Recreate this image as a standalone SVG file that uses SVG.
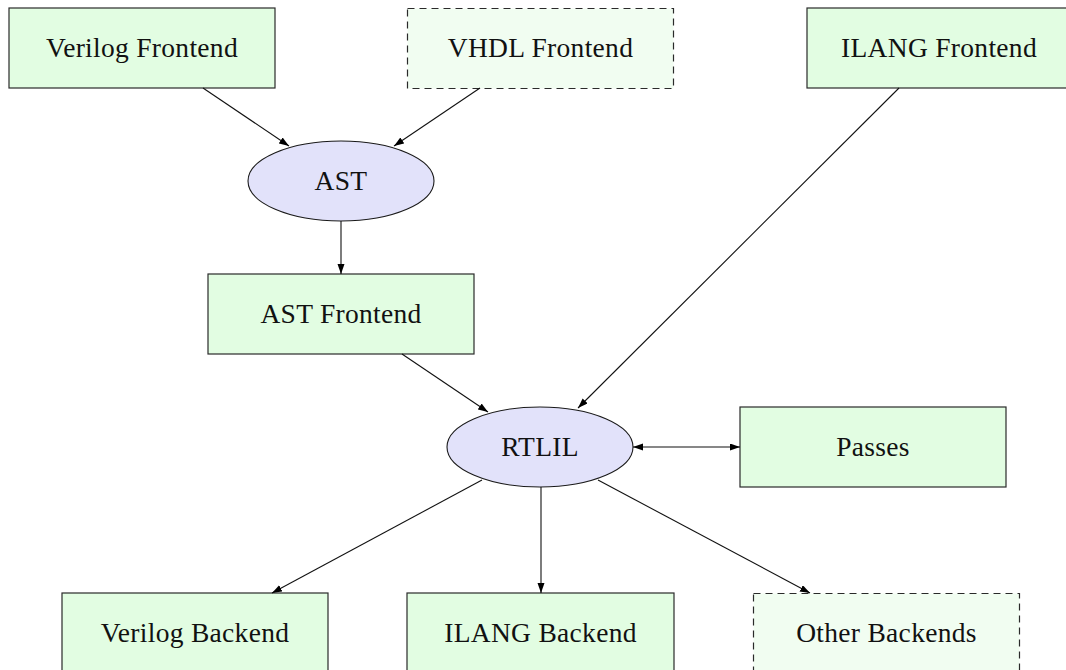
<svg xmlns="http://www.w3.org/2000/svg" width="1066" height="670" viewBox="0 0 1066 670">
<defs>
<marker id="arr" markerUnits="userSpaceOnUse" markerWidth="11" markerHeight="8" refX="10" refY="3.5" orient="auto">
<path d="M0,0 L10,3.5 L0,7 z" fill="#000"/>
</marker>
<marker id="arrs" markerUnits="userSpaceOnUse" markerWidth="11" markerHeight="8" refX="10" refY="3.5" orient="auto-start-reverse">
<path d="M0,0 L10,3.5 L0,7 z" fill="#000"/>
</marker>
<style>
.box{fill:#e2fde2;stroke:#2a2a2a;stroke-width:1.2}
.dbox{fill:#f1fdf1;stroke:#2a2a2a;stroke-width:1.2;stroke-dasharray:7 5}
.ell{fill:#e2e2fa;stroke:#1a1a1a;stroke-width:1.1}
.lbl{font-family:"Liberation Serif","DejaVu Serif",serif;font-size:27.5px;fill:#111;text-anchor:middle;letter-spacing:0.3px}
.edge{stroke:#111;stroke-width:1.1;fill:none;marker-end:url(#arr)}
</style>
</defs>
<rect width="1066" height="670" fill="#fff"/>
<g id="verilog-frontend"><rect class="box" x="9" y="8" width="266" height="80"/><text class="lbl" x="142" y="57">Verilog Frontend</text></g>
<g id="vhdl-frontend"><rect class="dbox" x="407.5" y="8.5" width="266" height="80"/><text class="lbl" x="540.5" y="57">VHDL Frontend</text></g>
<g id="ilang-frontend"><rect class="box" x="807" y="8" width="266" height="80"/><text class="lbl" x="939" y="57">ILANG Frontend</text></g>
<g id="ast"><ellipse class="ell" cx="341" cy="181" rx="93" ry="40"/><text class="lbl" x="341" y="190">AST</text></g>
<g id="ast-frontend"><rect class="box" x="208" y="274" width="266" height="80"/><text class="lbl" x="341" y="323">AST Frontend</text></g>
<g id="rtlil"><ellipse class="ell" cx="540" cy="447" rx="93" ry="40"/><text class="lbl" x="540" y="456">RTLIL</text></g>
<g id="passes"><rect class="box" x="740" y="407" width="266" height="80"/><text class="lbl" x="873" y="456">Passes</text></g>
<g id="verilog-backend"><rect class="box" x="62" y="593" width="266" height="80"/><text class="lbl" x="195" y="642">Verilog Backend</text></g>
<g id="ilang-backend"><rect class="box" x="407" y="593" width="267" height="80"/><text class="lbl" x="540.5" y="642">ILANG Backend</text></g>
<g id="other-backends"><rect class="dbox" x="753.5" y="593.5" width="266" height="80"/><text class="lbl" x="886.5" y="642">Other Backends</text></g>
<g id="connectors">
<line class="edge" x1="203" y1="88" x2="289" y2="146"/>
<line class="edge" x1="480" y1="88" x2="394" y2="146"/>
<line class="edge" x1="341" y1="221" x2="341" y2="274"/>
<line class="edge" x1="402" y1="354" x2="488" y2="412"/>
<line class="edge" x1="899" y1="88" x2="578" y2="408"/>
<line class="edge" x1="633" y1="447" x2="740" y2="447" marker-start="url(#arrs)"/>
<line class="edge" x1="482" y1="480" x2="272" y2="593"/>
<line class="edge" x1="541" y1="487" x2="541" y2="593"/>
<line class="edge" x1="598" y1="480" x2="810" y2="593"/>
</g>
</svg>
